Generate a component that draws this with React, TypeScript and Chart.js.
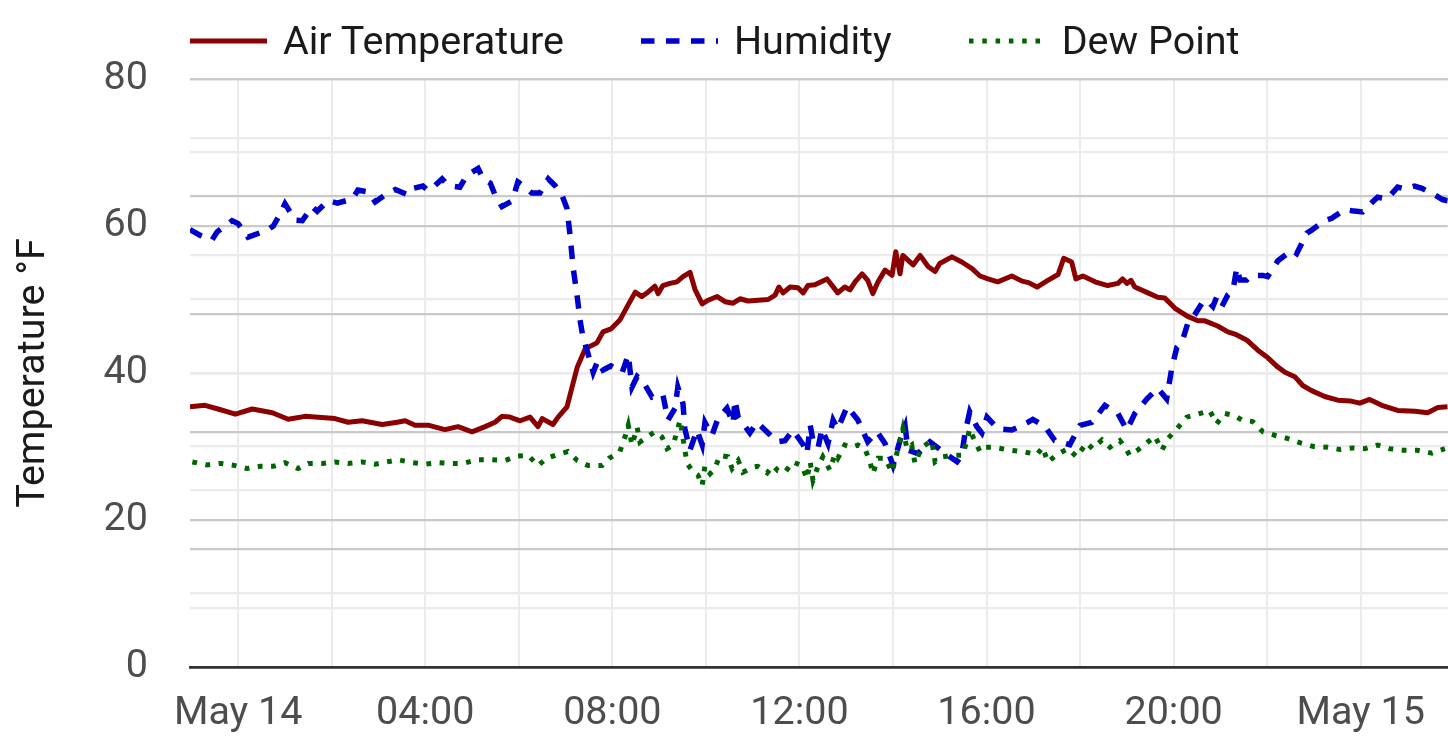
import React, { useEffect, useRef } from 'react';
import { Chart, registerables } from 'chart.js';

Chart.register(...registerables);

// Hours relative to May 14 00:00
const tempHours = [-1.03, -0.71, -0.43, -0.06, 0.3, 0.73, 1.07, 1.43, 1.86, 2.07, 2.35, 2.65, 3.08, 3.4, 3.57, 3.78, 4.06, 4.42, 4.7, 5.0, 5.28, 5.49, 5.64, 5.81, 6.03, 6.24, 6.41, 6.5, 6.73, 6.84, 7.03, 7.14, 7.25, 7.42, 7.67, 7.8, 7.97, 8.16, 8.34, 8.49, 8.63, 8.76, 8.91, 8.98, 9.08, 9.23, 9.38, 9.51, 9.66, 9.77, 9.92, 10.05, 10.24, 10.41, 10.58, 10.73, 10.9, 11.11, 11.33, 11.48, 11.56, 11.65, 11.8, 11.97, 12.08, 12.18, 12.33, 12.59, 12.82, 12.97, 13.08, 13.19, 13.34, 13.46, 13.57, 13.68, 13.83, 13.98, 14.06, 14.15, 14.21, 14.43, 14.58, 14.75, 14.9, 15.0, 15.26, 15.47, 15.69, 15.86, 16.03, 16.24, 16.54, 16.76, 16.9, 17.08, 17.31, 17.53, 17.65, 17.82, 17.91, 18.06, 18.32, 18.59, 18.81, 18.91, 19.0, 19.09, 19.17, 19.45, 19.66, 19.81, 20.03, 20.3, 20.52, 20.67, 20.94, 21.16, 21.31, 21.56, 21.8, 22.01, 22.21, 22.38, 22.59, 22.76, 22.95, 23.23, 23.51, 23.77, 23.98, 24.19, 24.45, 24.79, 25.16, 25.43, 25.65, 25.86];
const tempValues = [35.4, 35.6, 35.1, 34.4, 35.1, 34.6, 33.7, 34.1, 33.9, 33.8, 33.3, 33.5, 33.0, 33.3, 33.5, 32.9, 32.9, 32.3, 32.7, 32.0, 32.7, 33.3, 34.1, 34.0, 33.5, 34.0, 32.7, 33.8, 33.0, 34.0, 35.4, 38.1, 40.8, 43.3, 44.1, 45.6, 46.0, 47.2, 49.3, 51.0, 50.4, 51.0, 51.8, 50.8, 51.9, 52.2, 52.4, 53.1, 53.7, 51.3, 49.4, 49.9, 50.4, 49.7, 49.5, 50.1, 49.8, 49.9, 50.0, 50.6, 51.7, 50.9, 51.7, 51.6, 50.9, 51.9, 52.0, 52.8, 50.9, 51.7, 51.3, 52.4, 53.5, 52.6, 50.8, 52.4, 54.0, 53.3, 56.5, 53.5, 56.0, 54.7, 56.0, 54.5, 53.8, 54.9, 55.8, 55.1, 54.2, 53.2, 52.8, 52.4, 53.2, 52.5, 52.3, 51.7, 52.6, 53.4, 55.6, 55.1, 52.8, 53.2, 52.4, 51.9, 52.2, 52.8, 52.2, 52.6, 51.7, 50.9, 50.3, 50.2, 48.8, 47.7, 47.1, 47.1, 46.4, 45.6, 45.3, 44.5, 43.1, 42.1, 40.9, 40.1, 39.5, 38.3, 37.6, 36.8, 36.3, 36.2, 35.9, 36.4, 35.6, 34.9, 34.8, 34.6, 35.3, 35.4];

const humHours = [-1.03, -0.81, -0.56, -0.45, -0.13, 0.0, 0.21, 0.62, 0.75, 0.9, 1.0, 1.22, 1.37, 1.58, 1.69, 1.92, 2.12, 2.44, 2.56, 2.78, 2.93, 3.18, 3.36, 3.63, 3.74, 3.95, 4.06, 4.17, 4.36, 4.49, 4.74, 4.89, 5.13, 5.24, 5.39, 5.49, 5.64, 5.86, 5.98, 6.09, 6.28, 6.45, 6.63, 6.77, 6.92, 7.03, 7.1, 7.16, 7.25, 7.31, 7.37, 7.48, 7.59, 7.69, 7.8, 7.97, 8.21, 8.34, 8.42, 8.53, 8.66, 8.85, 9.08, 9.19, 9.34, 9.4, 9.51, 9.55, 9.66, 9.81, 9.92, 9.98, 10.13, 10.26, 10.45, 10.58, 10.62, 10.69, 10.94, 11.09, 11.33, 11.52, 11.69, 11.86, 12.08, 12.16, 12.23, 12.29, 12.4, 12.48, 12.61, 12.72, 12.82, 13.02, 13.25, 13.46, 13.66, 13.83, 14.0, 14.15, 14.26, 14.32, 14.53, 14.79, 15.07, 15.37, 15.47, 15.54, 15.64, 15.79, 15.9, 16.01, 16.24, 16.54, 16.71, 16.88, 16.99, 17.25, 17.46, 17.78, 18.0, 18.25, 18.53, 18.81, 19.0, 19.17, 19.43, 19.66, 19.85, 19.96, 20.07, 20.18, 20.3, 20.45, 20.6, 20.71, 20.84, 20.92, 21.03, 21.16, 21.27, 21.35, 21.42, 21.56, 21.67, 21.91, 22.01, 22.23, 22.53, 22.63, 22.85, 22.95, 23.23, 23.38, 23.66, 23.81, 24.04, 24.15, 24.36, 24.56, 24.79, 24.94, 25.15, 25.31, 25.58, 25.75, 25.86];
const humValues = [74.4, 73.4, 72.6, 74.0, 75.9, 75.4, 73.1, 74.3, 75.0, 77.1, 78.8, 76.0, 75.9, 78.3, 77.5, 79.3, 78.9, 79.6, 81.1, 80.8, 79.1, 80.5, 81.2, 80.3, 81.4, 81.8, 81.0, 81.6, 83.0, 81.9, 81.6, 83.6, 84.8, 83.0, 82.3, 80.3, 78.3, 79.3, 82.5, 81.9, 80.6, 80.6, 83.0, 81.9, 80.3, 78.0, 73.1, 68.0, 62.9, 59.0, 56.1, 53.3, 50.1, 52.1, 50.5, 51.2, 50.1, 53.1, 47.6, 49.4, 48.5, 45.9, 46.3, 42.0, 44.0, 47.6, 44.8, 40.5, 36.9, 40.3, 37.8, 41.6, 39.4, 42.3, 44.0, 41.4, 45.4, 42.5, 39.8, 41.6, 39.8, 38.3, 38.5, 40.3, 37.8, 36.3, 41.1, 38.5, 37.3, 40.5, 38.0, 42.0, 40.5, 44.3, 42.0, 38.3, 40.0, 38.0, 34.3, 38.5, 40.9, 36.9, 36.3, 38.3, 36.6, 34.9, 36.0, 39.8, 43.4, 40.9, 39.8, 42.5, 40.5, 40.3, 40.9, 41.6, 42.1, 40.9, 38.5, 37.8, 41.1, 41.6, 44.5, 43.1, 40.3, 43.1, 45.6, 47.4, 45.6, 50.8, 54.4, 55.3, 58.4, 59.9, 61.8, 62.4, 61.3, 62.9, 61.3, 63.3, 64.1, 67.9, 65.8, 65.8, 66.6, 66.6, 66.4, 69.1, 70.9, 70.3, 73.8, 74.3, 75.9, 76.3, 77.8, 77.6, 77.4, 78.3, 79.9, 79.6, 81.6, 81.3, 81.8, 81.4, 80.3, 79.5, 79.3];

const dewHours = [-0.98, -0.66, -0.38, -0.06, 0.19, 0.47, 0.75, 1.0, 1.28, 1.5, 1.8, 2.07, 2.35, 2.65, 2.93, 3.18, 3.42, 3.72, 4.0, 4.27, 4.53, 4.81, 5.11, 5.39, 5.71, 5.96, 6.2, 6.41, 6.6, 6.82, 7.05, 7.25, 7.48, 7.63, 7.78, 7.93, 8.16, 8.27, 8.34, 8.42, 8.53, 8.59, 8.74, 8.91, 9.06, 9.17, 9.3, 9.38, 9.45, 9.55, 9.6, 9.73, 9.83, 9.92, 9.98, 10.09, 10.19, 10.3, 10.47, 10.56, 10.69, 10.79, 11.01, 11.11, 11.31, 11.44, 11.54, 11.69, 11.86, 12.05, 12.16, 12.23, 12.29, 12.38, 12.5, 12.65, 12.76, 12.82, 12.97, 13.12, 13.25, 13.4, 13.51, 13.57, 13.68, 13.83, 13.98, 14.08, 14.21, 14.3, 14.4, 14.47, 14.62, 14.83, 14.9, 15.07, 15.28, 15.49, 15.58, 15.64, 15.71, 15.86, 15.97, 16.14, 16.33, 16.5, 16.78, 17.08, 17.2, 17.31, 17.53, 17.74, 17.93, 18.14, 18.27, 18.47, 18.64, 18.85, 18.96, 19.06, 19.23, 19.43, 19.6, 19.75, 19.88, 20.07, 20.28, 20.52, 20.77, 20.92, 21.09, 21.31, 21.46, 21.69, 21.91, 22.18, 22.43, 22.71, 22.99, 23.29, 23.55, 23.83, 24.09, 24.36, 24.62, 24.9, 25.2, 25.52, 25.8];
const dewValues = [27.9, 27.5, 27.7, 27.4, 27.0, 27.3, 27.3, 27.8, 27.0, 27.7, 27.7, 27.9, 27.7, 27.9, 27.6, 27.9, 28.2, 27.8, 27.6, 27.8, 27.7, 27.7, 28.2, 28.2, 28.1, 28.7, 28.8, 27.4, 28.4, 28.9, 29.3, 28.1, 27.4, 27.4, 27.4, 28.4, 29.3, 31.3, 32.9, 30.2, 32.6, 30.6, 31.3, 32.0, 31.3, 29.7, 30.2, 32.0, 33.6, 29.5, 27.7, 26.5, 26.1, 24.7, 27.4, 26.3, 27.0, 28.8, 28.6, 27.0, 28.1, 26.5, 27.2, 27.3, 26.4, 27.4, 26.7, 26.5, 27.9, 27.4, 25.6, 27.9, 25.4, 27.0, 28.6, 26.8, 29.0, 28.4, 30.2, 29.9, 30.2, 29.7, 27.9, 26.3, 28.4, 28.4, 26.5, 29.0, 32.4, 29.7, 30.2, 27.7, 29.9, 30.8, 27.9, 28.6, 28.8, 28.8, 30.8, 32.4, 31.3, 29.3, 29.9, 29.9, 29.7, 29.5, 29.3, 28.9, 29.9, 27.9, 29.0, 29.7, 28.6, 30.5, 29.7, 30.9, 29.9, 30.8, 29.9, 28.8, 29.5, 30.5, 31.4, 29.5, 31.1, 32.4, 34.0, 34.4, 34.9, 33.1, 34.5, 34.2, 33.6, 33.4, 32.0, 31.5, 31.1, 30.5, 30.0, 29.9, 29.6, 29.8, 29.7, 30.2, 29.7, 29.5, 29.5, 29.1, 29.7];

const xGridHours = [0, 2, 4, 6, 8, 10, 12, 14, 16, 18, 20, 22, 24];
const xLabelHours = [0, 4, 8, 12, 16, 20, 24];
const xLabels = ['May 14', '04:00', '08:00', '12:00', '16:00', '20:00', 'May 15'];
const yLabelValues = [0, 20, 40, 60, 80];
const X_MIN = -1.03;
const X_MAX = 25.86;

const FONT = 'Roboto';
const FONT_SIZE = 39.5;
const MAJOR = '#c9c9c9';
const MINOR = '#ebebeb';

const legendItems = [
  { label: 'Air Temperature', color: '#8b0000', dash: '', width: 5 },
  { label: 'Humidity', color: '#0000cd', dash: '13.5 11.5', width: 5.5 },
  { label: 'Dew Point', color: '#006400', dash: '4.5 8.8', width: 5 },
];

export default function App() {
  const ref = useRef<HTMLCanvasElement>(null);

  useEffect(() => {
    const canvas = ref.current;
    if (!canvas) return;
    const pts = (h: number[], v: number[]) => h.map((x, i) => ({ x, y: v[i] }));
    const chart = new Chart(canvas, {
      type: 'line',
      data: {
        datasets: [
          {
            label: 'Air Temperature',
            data: pts(tempHours, tempValues),
            borderColor: '#8b0000',
            backgroundColor: '#8b0000',
            borderWidth: 5,
            pointRadius: 0,
            tension: 0,
            borderJoinStyle: 'round',
            yAxisID: 'y',
            order: 3,
          },
          {
            label: 'Humidity',
            data: pts(humHours, humValues),
            borderColor: '#0000cd',
            backgroundColor: '#0000cd',
            borderWidth: 5.5,
            borderDash: [13.5, 11.5],
            pointRadius: 0,
            tension: 0,
            yAxisID: 'y2',
            order: 2,
          },
          {
            label: 'Dew Point',
            data: pts(dewHours, dewValues),
            borderColor: '#006400',
            backgroundColor: '#006400',
            borderWidth: 5,
            borderDash: [4.8, 8.5],
            pointRadius: 0,
            tension: 0,
            yAxisID: 'y',
            order: 1,
          },
        ],
      },
      options: {
        animation: false,
        responsive: true,
        maintainAspectRatio: false,
        layout: { padding: { top: 79, left: 0, right: 0, bottom: 0 } },
        plugins: {
          legend: { display: false },
          tooltip: { enabled: false },
        },
        scales: {
          x: {
            type: 'linear',
            min: X_MIN,
            max: X_MAX,
            afterBuildTicks: (s: any) => {
              s.ticks = xGridHours.map((v) => ({ value: v }));
            },
            afterFit: (s: any) => {
              s.height = 86;
            },
            ticks: {
              autoSkip: false,
              maxRotation: 0,
              minRotation: 0,
              padding: 23,
              color: '#4d4d4d',
              font: { family: FONT, size: FONT_SIZE },
              callback: (v: any) => {
                const i = xLabelHours.indexOf(Number(v));
                return i >= 0 ? xLabels[i] : '';
              },
            },
            grid: { color: MINOR, lineWidth: 2, drawTicks: false },
            border: { display: true, color: '#333333', width: 2.7, z: 1 },
          },
          y: {
            type: 'linear',
            position: 'left',
            min: 0,
            max: 80,
            afterFit: (s: any) => {
              s.width = 190;
            },
            ticks: {
              stepSize: 10,
              padding: 42,
              color: '#4d4d4d',
              font: { family: FONT, size: FONT_SIZE },
              callback: (v: any) => (yLabelValues.includes(Number(v)) ? String(v) : ''),
            },
            grid: {
              color: (c: any) => (c.tick && c.tick.value % 20 === 0 ? MAJOR : MINOR),
              lineWidth: 2.2,
              drawTicks: false,
            },
            border: { display: false },
            title: {
              display: true,
              text: 'Temperature °F',
              color: '#1a1a1a',
              font: { family: FONT, size: FONT_SIZE },
              padding: { top: 10, bottom: 0 },
            },
          },
          y2: {
            type: 'linear',
            position: 'right',
            min: 0,
            max: 100,
            afterFit: (s: any) => {
              s.width = 0;
            },
            ticks: { display: false, stepSize: 10 },
            grid: {
              color: (c: any) => (c.tick && c.tick.value % 20 === 0 ? MAJOR : MINOR),
              lineWidth: 2.2,
              drawTicks: false,
            },
            border: { display: false },
          },
        },
      },
    });
    return () => chart.destroy();
  }, []);

  return (
    <div style={{ position: 'fixed', left: 0, top: 0, width: 1448, height: 753, background: '#ffffff' }}>
      <canvas ref={ref} style={{ display: 'block' }} />
      <div
        style={{
          position: 'absolute',
          left: 190,
          top: 21,
          height: 40,
          display: 'flex',
          alignItems: 'center',
          gap: 77,
          fontFamily: FONT,
          fontSize: FONT_SIZE,
          lineHeight: '40px',
          color: '#1a1a1a',
          whiteSpace: 'nowrap',
        }}
      >
        {legendItems.map((it) => (
          <div key={it.label} style={{ display: 'flex', alignItems: 'center' }}>
            <svg width={77} height={10} style={{ display: 'block' }}>
              <line x1={0} y1={5} x2={77} y2={5} stroke={it.color} strokeWidth={it.width} strokeDasharray={it.dash || undefined} />
            </svg>
            <span style={{ marginLeft: 16 }}>{it.label}</span>
          </div>
        ))}
      </div>
    </div>
  );
}
